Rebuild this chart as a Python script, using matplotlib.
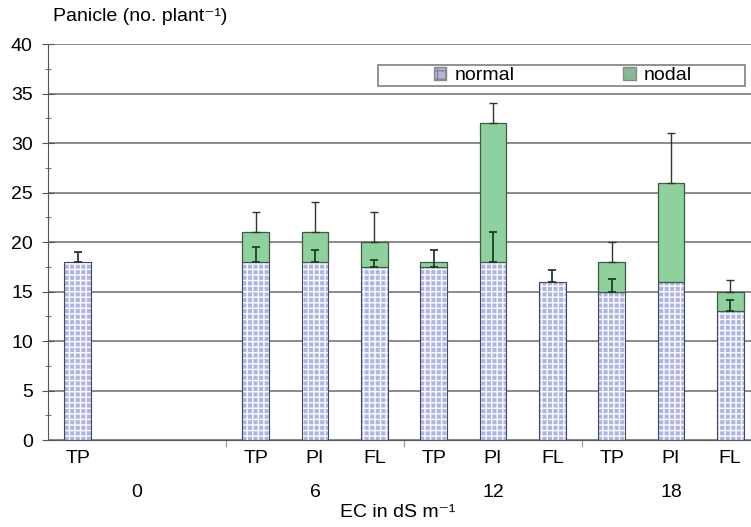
import numpy as np
import matplotlib
matplotlib.use('Agg')
import matplotlib.pyplot as plt
from matplotlib.patches import Patch, Rectangle
import matplotlib.transforms as mtransforms

plt.rcParams['font.family'] = ['Liberation Sans', 'DejaVu Sans']

# data
stages = ['TP', '', '', 'TP', 'PI', 'FL', 'TP', 'PI', 'FL', 'TP', 'PI', 'FL']
ec_levels = ['0', '6', '12', '18']
normal = [18, 0, 0, 18, 18, 17.5, 17.5, 18, 16, 15, 16, 13]
nodal = [0, 0, 0, 3, 3, 2.5, 0.5, 14, 0, 3, 10, 2]
normal_err = [1, 0, 0, 1.5, 1.2, 0.7, 1.7, 3, 1.2, 1.3, 0, 1.1]
total_err = [0, 0, 0, 2, 3, 3, 0, 2, 0, 2, 5, 1.2]

x = np.arange(len(stages))
total = np.array(normal) + np.array(nodal)
has = total > 0

fig = plt.figure(figsize=(7.51, 5.27), dpi=100)
ax = fig.add_axes([0.064, 0.165, 0.936, 0.7515])

ax.set_ylim(0, 40)
ax.set_xlim(-0.5, 11.35)
ax.set_yticks(np.arange(0, 41, 5))
ax.set_yticks(np.arange(0, 40, 2.5), minor=True)
ax.grid(axis='y', color='#8a8a8a', linewidth=1.4)
ax.set_axisbelow(True)

w = 0.45
blue = '#adb5e6'
green = '#8fd19c'

# normal bars with white grid pattern
ax.bar(x[has], np.array(normal)[has], w, color=blue, edgecolor='white', hatch='+++', linewidth=0, zorder=2)
ax.bar(x[has], np.array(normal)[has], w, fill=False, edgecolor='#444466', linewidth=0.8, zorder=3)
# nodal bars stacked
nd = np.array(nodal) > 0
ax.bar(x[nd], np.array(nodal)[nd], w, bottom=np.array(normal)[nd], color=green,
       edgecolor='#3d5a45', linewidth=0.9, zorder=3)

# error bars (upper only)
ne = np.array(normal_err) > 0
ax.errorbar(x[ne], np.array(normal)[ne], yerr=[np.zeros(ne.sum()), np.array(normal_err)[ne]],
            fmt='none', ecolor='#1f3b28', elinewidth=1.3, capsize=3, capthick=1.3, zorder=4)
te = np.array(total_err) > 0
ax.errorbar(x[te], total[te], yerr=[np.zeros(te.sum()), np.array(total_err)[te]],
            fmt='none', ecolor='#333333', elinewidth=1.0, capsize=3, capthick=1.0, zorder=4)

for s in ['top', 'right']:
    ax.spines[s].set_visible(False)
ax.spines['left'].set_color('#555555')
ax.spines['bottom'].set_color('#555555')
ax.tick_params(axis='y', which='both', direction='inout', length=8, color='#555555',
               labelsize=14, pad=7)
ax.tick_params(axis='y', which='minor', length=5)
ax.set_xticks([2.5, 5.5, 8.5])
ax.set_xticklabels([])
ax.tick_params(axis='x', direction='out', length=5, color='#999999')

trans = mtransforms.blended_transform_factory(ax.transData, ax.transAxes)
for xi, s in zip(x, stages):
    ax.text(xi, -0.025, s, transform=trans, ha='center', va='top', fontsize=14)
for gi, lab in enumerate(ec_levels):
    ax.text(gi * 3 + 1, -0.11, lab, transform=trans, ha='center', va='top', fontsize=14)

fig.text(0.529, 0.012, 'EC in dS m\u207b\u00b9', ha='center', va='bottom', fontsize=14)
fig.text(0.07, 0.952, 'Panicle (no. plant\u207b\u00b9)', ha='left', va='bottom', fontsize=14)

# legend box
ax.add_patch(Rectangle((0.469, 0.894), 0.522, 0.052, transform=ax.transAxes,
                       facecolor='white', edgecolor='#888888', linewidth=1.3,
                       clip_on=False, zorder=5))
handles = [Patch(facecolor=blue, edgecolor='#888888', hatch='++'),
           Patch(facecolor='#88b898', edgecolor='#888888')]
leg = ax.legend(handles, ['normal', 'nodal'], loc='center left', bbox_to_anchor=(0.535, 0.92),
                ncol=2, frameon=False, fontsize=14, columnspacing=5.6,
                handlelength=0.65, handleheight=0.65, borderpad=0, handletextpad=0.4)
leg.set_zorder(6)

fig.savefig('out.png', dpi=100)
